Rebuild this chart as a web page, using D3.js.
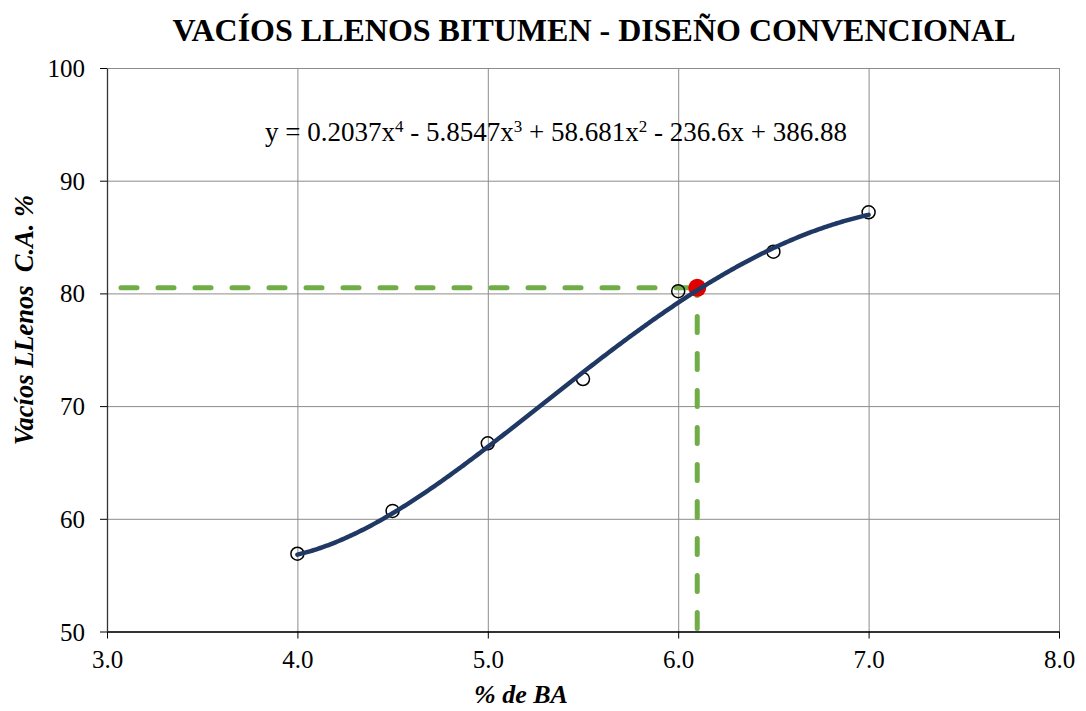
<!DOCTYPE html>
<html>
<head>
<meta charset="utf-8">
<script src="https://cdn.jsdelivr.net/npm/d3@7"></script>
<style>
  html, body { margin: 0; padding: 0; background: #fff; }
  svg { display: block; }
  text { font-family: "Liberation Serif", "Times New Roman", serif; fill: #000; }
</style>
</head>
<body>
<svg id="chart" width="1086" height="711"></svg>
<script>
// Measured mixes: % asphalt binder vs. voids filled with bitumen
const binderPct = [4.0, 4.5, 5.0, 5.5, 6.0, 6.5, 7.0];
const vfaPct    = [56.9, 60.7, 66.7, 72.4, 80.2, 83.7, 87.2];

// 4th order trendline coefficients (x^4, x^3, x^2, x, const)
const trendCoef = [0.2037, -5.8547, 58.681, -236.6, 386.88];

// Selected design point
const designX = [6.1];
const designY = [80.5];

const xTicks = [3.0, 4.0, 5.0, 6.0, 7.0, 8.0];
const yTicks = [50, 60, 70, 80, 90, 100];

const titleText = "VACÍOS LLENOS BITUMEN - DISEÑO CONVENCIONAL";
const equationText = ["y = 0.2037x", "4", " - 5.8547x", "3", " + 58.681x", "2", " - 236.6x + 386.88"];
const xLabel = "% de BA";
const yLabel = "Vacíos LLenos  C.A. %";

const svg = d3.select("#chart");
const plot = { left: 107, right: 1059, top: 68, bottom: 631.5 };

const x = d3.scaleLinear().domain([3, 8]).range([plot.left, plot.right]);
const y = d3.scaleLinear().domain([50, 100]).range([plot.bottom, plot.top]);

// Gridlines
svg.append("g")
  .attr("transform", `translate(0,${plot.bottom})`)
  .call(d3.axisBottom(x).tickValues(xTicks).tickSize(-(plot.bottom - plot.top)).tickFormat(""))
  .call(g => g.select(".domain").remove())
  .call(g => g.selectAll("line").attr("stroke", "#8c8c8c").attr("stroke-width", 1));
svg.append("g")
  .attr("transform", `translate(${plot.left},0)`)
  .call(d3.axisLeft(y).tickValues(yTicks).tickSize(-(plot.right - plot.left)).tickFormat(""))
  .call(g => g.select(".domain").remove())
  .call(g => g.selectAll("line").attr("stroke", "#8c8c8c").attr("stroke-width", 1));

// Axes
const xAxis = svg.append("g")
  .attr("transform", `translate(0,${plot.bottom})`)
  .call(d3.axisBottom(x).tickValues(xTicks).tickSize(7).tickSizeOuter(0).tickPadding(12).tickFormat(d3.format(".1f")));
xAxis.select(".domain").attr("stroke", "#000").attr("stroke-width", 1.3);
xAxis.selectAll("line").attr("stroke", "#000");
xAxis.selectAll("text").style("font-size", "25px").attr("dy", "0.71em");

const yAxis = svg.append("g")
  .attr("transform", `translate(${plot.left},0)`)
  .call(d3.axisLeft(y).tickValues(yTicks).tickSize(7).tickSizeOuter(0).tickPadding(15).tickFormat(d3.format("d")));
yAxis.select(".domain").attr("stroke", "#333").attr("stroke-width", 1.3);
yAxis.selectAll("line").attr("stroke", "#000");
yAxis.selectAll("text").style("font-size", "25px").attr("dy", "0.34em");

// Design guide lines
const guide = svg.append("g")
  .attr("stroke", "#70ad47")
  .attr("stroke-width", 5)
  .attr("stroke-linecap", "round")
  .attr("stroke-dasharray", "16 21")
  .attr("fill", "none");
guide.append("line")
  .attr("x1", x(3) + 14).attr("x2", x(designX[0]))
  .attr("y1", y(designY[0])).attr("y2", y(designY[0]));
guide.append("line")
  .attr("x1", x(designX[0])).attr("x2", x(designX[0]))
  .attr("y1", y(50) - 3).attr("y2", y(designY[0]));

// Design point
svg.append("circle")
  .attr("cx", x(designX[0])).attr("cy", y(designY[0]))
  .attr("r", 9)
  .attr("fill", "#e00000");

// Observed points
svg.append("g")
  .selectAll("circle")
  .data(binderPct.map((b, i) => [b, vfaPct[i]]))
  .join("circle")
  .attr("cx", d => x(d[0]))
  .attr("cy", d => y(d[1]))
  .attr("r", 6.5)
  .attr("fill", "none")
  .attr("stroke", "#000")
  .attr("stroke-width", 1.5);

// Polynomial trendline over the measured range
const poly = v => trendCoef.reduce((acc, c) => acc * v + c, 0);
const curveX = d3.range(0, 301).map(i => 4 + (3 * i) / 300);
svg.append("path")
  .datum(curveX)
  .attr("fill", "none")
  .attr("stroke", "#1f3864")
  .attr("stroke-width", 4.5)
  .attr("stroke-linecap", "round")
  .attr("d", d3.line().x(d => x(d)).y(d => y(poly(d))));

// Equation label
const eq = svg.append("text")
  .attr("x", 556).attr("y", 141)
  .attr("text-anchor", "middle")
  .style("font-size", "27px");
equationText.forEach((t, i) => {
  const sup = i % 2 === 1;
  eq.append("tspan")
    .attr("dy", sup ? -9 : (i > 0 ? 9 : 0))
    .style("font-size", sup ? "17px" : "27px")
    .text(t);
});

// Title
svg.append("text")
  .attr("x", 594).attr("y", 41)
  .attr("text-anchor", "middle")
  .style("font-size", "32px")
  .style("font-weight", "bold")
  .text(titleText);

// Axis titles
svg.append("text")
  .attr("x", 521).attr("y", 703)
  .attr("text-anchor", "middle")
  .style("font-size", "26px")
  .style("font-weight", "bold")
  .style("font-style", "italic")
  .text(xLabel);

svg.append("text")
  .attr("transform", `translate(33,320) rotate(-90)`)
  .attr("text-anchor", "middle")
  .style("font-size", "26.5px")
  .style("font-weight", "bold")
  .style("font-style", "italic")
  .style("white-space", "pre")
  .text(yLabel);
</script>
</body>
</html>
